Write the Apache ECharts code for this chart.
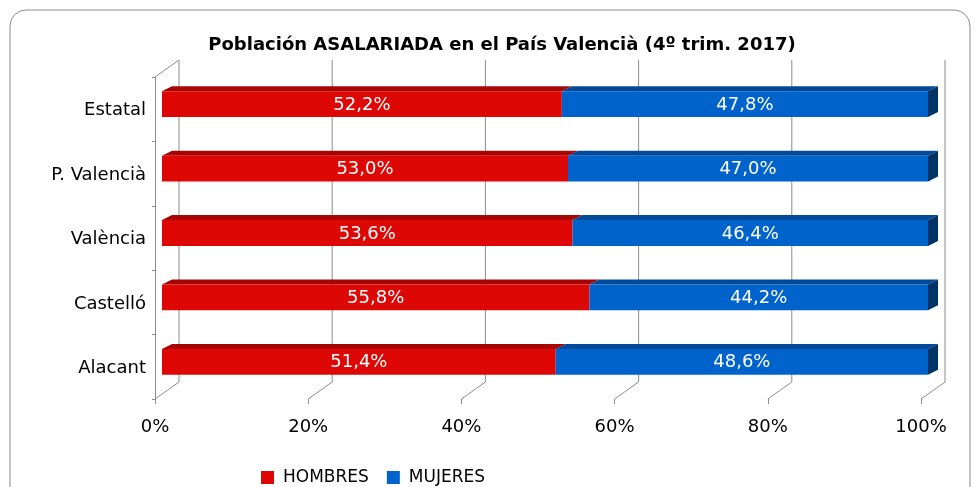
<!DOCTYPE html>
<html>
<head>
<meta charset="utf-8">
<script src="https://cdn.jsdelivr.net/npm/echarts@6/dist/echarts.min.js"></script>
<style>
html, body { margin: 0; padding: 0; background: #fff; }
#chart { width: 975px; height: 487px; }
</style>
</head>
<body>
<div id="chart"></div>
<script>
const categories = ['Estatal', 'P. Valencià', 'València', 'Castelló', 'Alacant'];
const hombres = [52.2, 53.0, 53.6, 55.8, 51.4];
const mujeres = [47.8, 47.0, 46.4, 44.2, 48.6];
const xTicks = [0, 20, 40, 60, 80, 100];

const FONT = '"DejaVu Sans", "Noto Sans", sans-serif';
const DEPTH = [24, -17];     // fondo de la caja 3D
const BAR_SHIFT = [7, -5];   // cara frontal de la barra dentro de la caja
const BAR_DEPTH = [10, -5];  // grosor de la barra

const fmt = (v) => v.toFixed(1).replace('.', ',') + '%';

const chart = echarts.init(document.getElementById('chart'));

// paredes: lineas de fondo y diagonales del suelo
const renderWalls = (params, api) => {
    const v = api.value(0);
    const s = api.size([0, 1])[1];
    const pTop = api.coord([v, 0]);
    const pBot = api.coord([v, categories.length - 1]);
    const x = pTop[0];
    const top = pTop[1] - s / 2;
    const bot = pBot[1] + s / 2;
    const line = { stroke: '#8c8c8c', lineWidth: 1 };
    const children = [
        { type: 'line', shape: { x1: x + DEPTH[0], y1: top + DEPTH[1], x2: x + DEPTH[0], y2: bot + DEPTH[1] }, style: line },
        { type: 'line', shape: { x1: x, y1: bot, x2: x + DEPTH[0], y2: bot + DEPTH[1] }, style: line },
    ];
    if (v === 0) {
        children.push({ type: 'line', shape: { x1: x, y1: top, x2: x + DEPTH[0], y2: top + DEPTH[1] }, style: line });
    }
    return { type: 'group', children };
};

const makeBar = (name, data, colors, withSide) => ({
    name,
    type: 'custom',
    itemStyle: { color: colors.front },
    data,
    encode: { x: [1, 2], y: 0 },
    z: 3,
    renderItem: (params, api) => {
        const idx = api.value(0);
        const p0 = api.coord([api.value(1), idx]);
        const p1 = api.coord([api.value(2), idx]);
        const h = api.size([0, 1])[1] * 0.4;
        const x0 = p0[0] + BAR_SHIFT[0];
        const x1 = p1[0] + BAR_SHIFT[0];
        const yc = p0[1] + BAR_SHIFT[1];
        const top = yc - h / 2;
        const bot = yc + h / 2;
        const [dx, dy] = BAR_DEPTH;
        const children = [
            { type: 'polygon', shape: { points: [[x0, top], [x0 + dx, top + dy], [x1 + dx, top + dy], [x1, top]] }, style: { fill: colors.top } },
            { type: 'rect', shape: { x: x0, y: top, width: x1 - x0, height: h }, style: { fill: colors.front } },
        ];
        if (withSide) {
            children.push({ type: 'polygon', shape: { points: [[x1, top], [x1 + dx, top + dy], [x1 + dx, bot + dy], [x1, bot]] }, style: { fill: colors.side } });
        }
        children.push({
            type: 'text',
            style: {
                text: fmt(api.value(3)), x: (x0 + x1) / 2, y: yc + 1,
                align: 'center', verticalAlign: 'middle',
                fill: '#fff', font: '18px ' + FONT,
            },
        });
        return { type: 'group', children };
    },
});

const option = {
    animation: false,
    title: {
        text: 'Población ASALARIADA en el País Valencià (4º trim. 2017)',
        left: 497,
        textAlign: 'center',
        top: 31,
        textStyle: { fontFamily: FONT, fontSize: 18, fontWeight: 'bold', color: '#000' },
    },
    graphic: [{
        type: 'rect',
        shape: { x: 10, y: 10, width: 960, height: 500, r: 16 },
        style: { fill: 'none', stroke: '#8a8a8a', lineWidth: 1 },
        silent: true,
    }],
    legend: {
        data: ['HOMBRES', 'MUJERES'],
        left: 256,
        top: 464,
        icon: 'rect',
        itemWidth: 13,
        itemHeight: 13,
        itemGap: 18,
        textStyle: { fontFamily: FONT, fontSize: 17, color: '#000', padding: [0, 0, 0, 4] },
    },
    grid: { left: 155, right: 54, top: 77, bottom: 88 },
    xAxis: {
        type: 'value',
        min: 0,
        max: 100,
        interval: 20,
        axisLine: { show: false },
        axisTick: { show: true, length: 5, lineStyle: { color: '#8c8c8c' } },
        splitLine: { show: false },
        axisLabel: { formatter: '{value}%', margin: 19, fontFamily: FONT, fontSize: 18, color: '#000' },
    },
    yAxis: {
        type: 'category',
        data: categories,
        inverse: true,
        axisLine: { show: true, lineStyle: { color: '#8c8c8c' } },
        axisTick: { show: true, length: 3, lineStyle: { color: '#8c8c8c' } },
        axisLabel: {
            margin: 9,
            formatter: '{a|{value}}',
            rich: { a: { fontFamily: FONT, fontSize: 18, color: '#000', padding: [3, 0, 0, 0] } },
        },
    },
    series: [
        {
            type: 'custom',
            data: xTicks.map((v) => [v, 0]),
            encode: { x: 0, y: 1 },
            z: 1,
            silent: true,
            renderItem: renderWalls,
        },
        makeBar('HOMBRES', categories.map((c, i) => [i, 0, hombres[i], hombres[i]]),
            { front: '#dd0806', top: '#a90404', side: '#7a0000' }, false),
        makeBar('MUJERES', categories.map((c, i) => [i, hombres[i], hombres[i] + mujeres[i], mujeres[i]]),
            { front: '#0063cc', top: '#004a99', side: '#003366' }, true),
    ],
};

chart.setOption(option);
</script>
</body>
</html>
